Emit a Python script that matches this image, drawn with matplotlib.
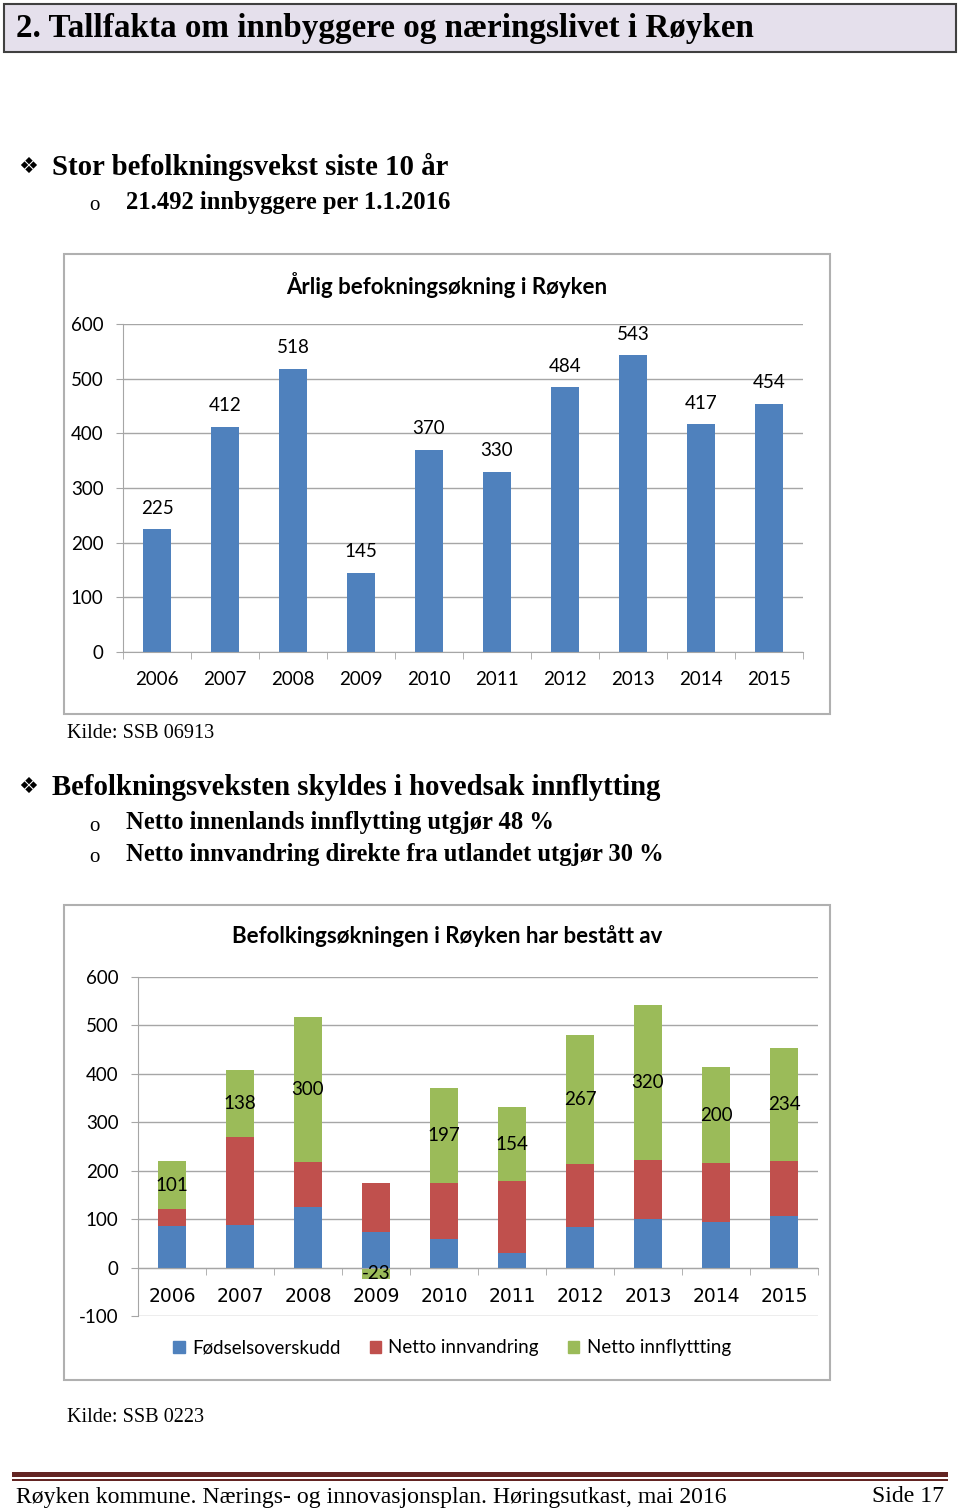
import matplotlib.pyplot as plt
from matplotlib.patches import Rectangle, Patch
import numpy as np

plt.rcParams['axes.unicode_minus'] = False

# data
years = ['2006', '2007', '2008', '2009', '2010', '2011', '2012', '2013', '2014', '2015']
growth = [225, 412, 518, 145, 370, 330, 484, 543, 417, 454]

births = [86, 88, 125, 74, 59, 31, 83, 100, 94, 107]          # Fødselsoverskudd
immigration = [34, 182, 92, 101, 115, 147, 130, 122, 121, 113]  # Netto innvandring
inland = [101, 138, 300, -23, 197, 154, 267, 320, 200, 234]     # Netto innflyttting

BLUE, RED, GREEN = '#4f81bd', '#c0504d', '#9bbb59'
GRID = '#a6a6a6'

W, H = 960, 1511
fig = plt.figure(figsize=(W / 100, H / 100), dpi=100)


def box(l, t, r, b, **kw):
    fig.patches.append(Rectangle((l / W, 1 - b / H), (r - l) / W, (b - t) / H,
                                 transform=fig.transFigure, zorder=-1, **kw))


def text(x, y, s, **kw):
    fig.text(x / W, 1 - y / H, s, **kw)


def axes(l, t, r, b):
    ax = fig.add_axes([l / W, 1 - b / H, (r - l) / W, (b - t) / H])
    ax.patch.set_alpha(0)
    return ax


serif = 'Liberation Serif'
sans = 'Lato'
FS = 13.5

# page heading
box(4, 4, 956, 52, facecolor='#e5e0ec', edgecolor='#404040', lw=1.5)
text(16, 28, '2. Tallfakta om innbyggere og næringslivet i Røyken', family=serif,
     weight='bold', size=23.9, va='center')

# bullet 1
text(18, 167, '❖', family='DejaVu Sans', size=16, va='center')
text(52, 167, 'Stor befolkningsvekst siste 10 år', family=serif, weight='bold',
     size=20.7, va='center')
text(89, 206, 'o', family=serif, size=15, va='center')
text(126, 203, '21.492 innbyggere per 1.1.2016', family=serif, weight='bold',
     size=17.7, va='center')


def style(ax, lo, hi):
    ax.set_xlim(-0.5, len(years) - 0.5)
    ax.set_ylim(lo, hi)
    ax.set_yticks(range(lo, hi + 1, 100))
    ax.yaxis.grid(True, color=GRID, lw=1)
    ax.set_axisbelow(True)
    for s in ['top', 'right']:
        ax.spines[s].set_visible(False)
    ax.spines['left'].set_color(GRID)
    ax.spines['bottom'].set_color(GRID)
    ax.set_xticks(range(len(years)))
    ax.set_xticklabels(years)
    ax.set_xticks(np.arange(-0.5, len(years)), minor=True)
    ax.tick_params(axis='x', which='major', length=0, pad=14, labelsize=FS)
    ax.tick_params(axis='x', which='minor', length=5, color=GRID)
    ax.tick_params(axis='y', length=5, color=GRID, pad=9, labelsize=FS)
    for lab in ax.get_xticklabels() + ax.get_yticklabels():
        lab.set_family(sans)


# chart 1
box(64, 254, 830, 714, facecolor='white', edgecolor='#b0b0b0', lw=1.5)
ax1 = axes(123, 324, 803, 652)
x = np.arange(len(years))
ax1.bar(x, growth, width=0.4, color=BLUE)
style(ax1, 0, 600)
for i, v in enumerate(growth):
    ax1.annotate(str(v), (i, v), xytext=(0, 15), textcoords='offset points',
                 ha='center', va='center', family=sans, size=FS)
text(447, 285, 'Årlig befokningsøkning i Røyken', family=sans, weight='bold',
     size=16, ha='center', va='center')
text(67, 734, 'Kilde: SSB 06913', family=serif, size=14.6, va='center')

# bullet 2
text(18, 787, '❖', family='DejaVu Sans', size=16, va='center')
text(52, 787, 'Befolkningsveksten skyldes i hovedsak innflytting', family=serif,
     weight='bold', size=20.7, va='center')
text(89, 826, 'o', family=serif, size=15, va='center')
text(126, 823, 'Netto innenlands innflytting utgjør 48 %', family=serif,
     weight='bold', size=17.7, va='center')
text(89, 858, 'o', family=serif, size=15, va='center')
text(126, 855, 'Netto innvandring direkte fra utlandet utgjør 30 %', family=serif,
     weight='bold', size=17.7, va='center')

# chart 2
box(64, 905, 830, 1380, facecolor='white', edgecolor='#b0b0b0', lw=1.5)
ax2 = axes(138, 977, 818, 1316)
b = np.array(births)
m = np.array(immigration)
g = np.array(inland)
ax2.bar(x, b, width=0.4, color=BLUE)
ax2.bar(x, m, width=0.4, bottom=b, color=RED)
gb = np.where(g >= 0, b + m, 0)
ax2.bar(x, g, width=0.4, bottom=gb, color=GREEN)
style(ax2, -100, 600)
ax2.spines['bottom'].set_position(('data', 0))
for i, v in enumerate(inland):
    ax2.text(i, gb[i] + v / 2, str(v), ha='center', va='center', family=sans,
             size=FS)
text(447, 936, 'Befolkingsøkningen i Røyken har bestått av', family=sans,
     weight='bold', size=16, ha='center', va='center')
handles = [Patch(color=BLUE, label='Fødselsoverskudd'),
           Patch(color=RED, label='Netto innvandring'),
           Patch(color=GREEN, label='Netto innflyttting')]
fig.legend(handles=handles, loc='center', bbox_to_anchor=(452 / W, 1 - 1348 / H),
           ncol=3, frameon=False, handlelength=0.6, handleheight=0.6,
           handletextpad=0.4, columnspacing=1.55, prop={'family': sans, 'size': FS})
text(67, 1418, 'Kilde: SSB 0223', family=serif, size=14.6, va='center')

# footer
box(12, 1472, 948, 1477, facecolor='#632523', edgecolor='none')
box(12, 1479, 948, 1480.5, facecolor='#632523', edgecolor='none')
text(16, 1497, 'Røyken kommune. Nærings- og innovasjonsplan. Høringsutkast, mai 2016',
     family=serif, size=17.1, va='center')
text(944, 1497, 'Side 17', family=serif, size=17.1, va='center', ha='right')

fig.savefig('out.png', dpi=100)
